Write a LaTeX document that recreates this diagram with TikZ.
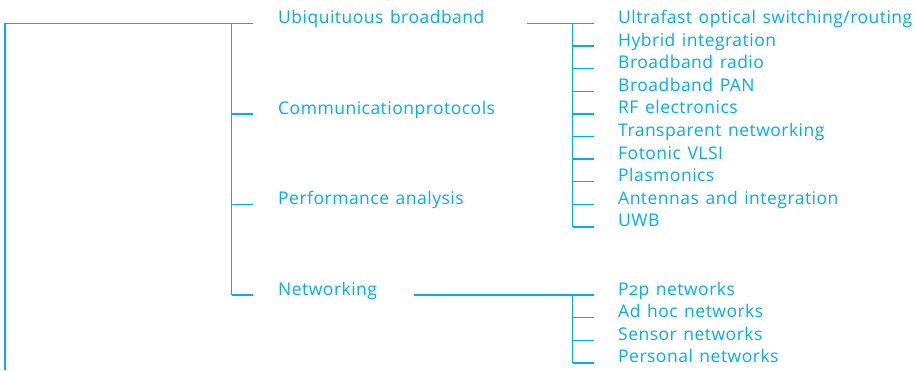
\documentclass[tikz,border=0pt]{standalone}
\usepackage{fontspec}
\setmainfont{Open Sans}[Numbers=OldStyle, LetterSpace=2.8, WordSpace=1.3]
\definecolor{cy}{RGB}{0,174,239}
\begin{document}
\begin{tikzpicture}[x=1pt,y=-1pt,
  lbl/.style={anchor=base west, inner sep=0pt, text=cy, font=\fontsize{17.5}{20}\selectfont},
  ln/.style={draw=cy, line width=1.4pt}]
\useasboundingbox (0,0) rectangle (918,370);
% left column labels
\node[lbl] (ub) at (278,23.5) {Ubiquituous broadband};
\node[lbl] (cp) at (278,114) {Communicationprotocols};
\node[lbl] (pa) at (278,204.5) {Performance analysis};
\node[lbl] (nw) at (278,295) {Networking};
% right column labels
\foreach \t [count=\i from 0] in {Ultrafast optical switching/routing, Hybrid integration, Broadband radio, Broadband PAN, RF electronics, Transparent networking, Fotonic VLSI, Plasmonics, Antennas and integration, UWB}
  \node[lbl] (u\i) at (618,23.5+22.6*\i) {\t};
\foreach \t [count=\i from 0] in {P2p networks, Ad hoc networks, Sensor networks, Personal networks}
  \node[lbl] (p\i) at (618,295+22.6*\i) {\t};
% junction coordinates
\coordinate (r0) at (5,23.5);
\coordinate (r1) at (5,370);
\coordinate (bj) at (231.7,23.5);
\coordinate (ua) at (527,23.5);
\coordinate (rj) at (572.7,23.5);
\coordinate (na) at (414,295);
% root tree
\draw[ln] (r1) -- (r0) -- ([xshift=-25pt]ub.base west);
\draw[ln] (bj) -- (bj |- nw.base);
\foreach \n in {cp,pa,nw}
  \draw[ln] (bj |- \n.base) -- ([xshift=-25pt]\n.base west);
% ubiquitous broadband subtree
\draw[ln] (ua) -- ([xshift=-24pt]u0.base west);
\draw[ln] (rj) -- (rj |- u9.base);
\foreach \i in {1,...,9}
  \draw[ln] (rj |- u\i.base) -- ([xshift=-24pt]u\i.base west);
% networking subtree
\draw[ln] (na) -- ([xshift=-24pt]p0.base west);
\draw[ln] (na -| rj) -- (rj |- p3.base);
\foreach \i in {1,2,3}
  \draw[ln] (rj |- p\i.base) -- ([xshift=-24pt]p\i.base west);
\end{tikzpicture}
\end{document}
